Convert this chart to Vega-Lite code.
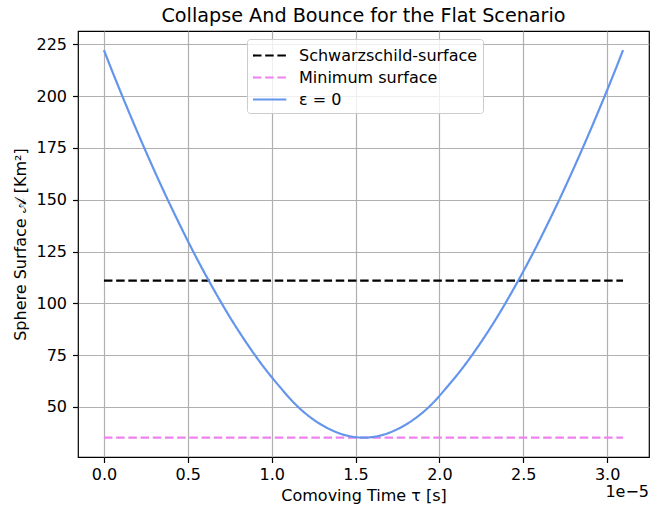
{
  "$schema": "https://vega.github.io/schema/vega-lite/v6.json",
  "width": 571,
  "height": 426,
  "autosize": {"type": "none"},
  "padding": {"left": 78, "top": 31, "right": 1, "bottom": 51},
  "background": "white",
  "config": {
    "font": "DejaVu Sans",
    "view": {"stroke": "black", "strokeWidth": 1.2},
    "axis": {
      "domain": false,
      "grid": true,
      "gridColor": "#b0b0b0",
      "gridWidth": 1.2,
      "tickColor": "black",
      "tickWidth": 1.2,
      "tickSize": 5.5,
      "labelFontSize": 16,
      "labelColor": "black",
      "labelPadding": 4,
      "titleFontSize": 16,
      "titleFontWeight": "normal",
      "titleColor": "black"
    }
  },
  "title": {
    "text": "Collapse And Bounce for the Flat Scenario",
    "fontSize": 19.2,
    "fontWeight": "normal",
    "color": "black",
    "anchor": "middle",
    "offset": 5
  },
  "datasets": {
    "lines": [
      {"series": "Schwarzschild-surface", "t": 0.0, "A": 111.0},
      {"series": "Schwarzschild-surface", "t": 3.095, "A": 111.0},
      {"series": "Minimum surface", "t": 0.0, "A": 35.2},
      {"series": "Minimum surface", "t": 3.095, "A": 35.2},
      {"series": "ε = 0", "t": 0.0, "A": 222.2},
      {"series": "ε = 0", "t": 0.0475, "A": 212.4},
      {"series": "ε = 0", "t": 0.1475, "A": 192.6},
      {"series": "ε = 0", "t": 0.2475, "A": 173.7},
      {"series": "ε = 0", "t": 0.3475, "A": 155.7},
      {"series": "ε = 0", "t": 0.4475, "A": 138.7},
      {"series": "ε = 0", "t": 0.5475, "A": 122.6},
      {"series": "ε = 0", "t": 0.6475, "A": 107.7},
      {"series": "ε = 0", "t": 0.7475, "A": 93.8},
      {"series": "ε = 0", "t": 0.8475, "A": 81.2},
      {"series": "ε = 0", "t": 0.9475, "A": 69.8},
      {"series": "ε = 0", "t": 1.0475, "A": 59.8},
      {"series": "ε = 0", "t": 1.1475, "A": 50.8},
      {"series": "ε = 0", "t": 1.2475, "A": 44.0},
      {"series": "ε = 0", "t": 1.3475, "A": 39.2},
      {"series": "ε = 0", "t": 1.4475, "A": 36.2},
      {"series": "ε = 0", "t": 1.5475, "A": 35.2},
      {"series": "ε = 0", "t": 1.6475, "A": 36.2},
      {"series": "ε = 0", "t": 1.7475, "A": 39.2},
      {"series": "ε = 0", "t": 1.8475, "A": 44.0},
      {"series": "ε = 0", "t": 1.9475, "A": 50.8},
      {"series": "ε = 0", "t": 2.0475, "A": 59.8},
      {"series": "ε = 0", "t": 2.1475, "A": 69.8},
      {"series": "ε = 0", "t": 2.2475, "A": 81.2},
      {"series": "ε = 0", "t": 2.3475, "A": 93.8},
      {"series": "ε = 0", "t": 2.4475, "A": 107.7},
      {"series": "ε = 0", "t": 2.5475, "A": 122.6},
      {"series": "ε = 0", "t": 2.6475, "A": 138.7},
      {"series": "ε = 0", "t": 2.7475, "A": 155.7},
      {"series": "ε = 0", "t": 2.8475, "A": 173.7},
      {"series": "ε = 0", "t": 2.9475, "A": 192.6},
      {"series": "ε = 0", "t": 3.0475, "A": 212.4},
      {"series": "ε = 0", "t": 3.095, "A": 222.2}
    ],
    "offset": [
      {"label": "1e−5", "t": 3.24975, "A": 25.85}
    ]
  },
  "layer": [
    {
      "data": {"name": "lines"},
      "mark": {"type": "line", "strokeWidth": 2.2, "interpolate": "monotone"},
      "encoding": {
        "x": {
          "field": "t",
          "type": "quantitative",
          "scale": {"domain": [-0.15475, 3.24975], "nice": false, "zero": false},
          "axis": {
            "values": [0, 0.5, 1, 1.5, 2, 2.5, 3],
            "format": ".1f",
            "title": "Comoving Time τ [s]",
            "titlePadding": 5
          }
        },
        "y": {
          "field": "A",
          "type": "quantitative",
          "scale": {"domain": [25.85, 231.45], "nice": false, "zero": false},
          "axis": {
            "values": [50, 75, 100, 125, 150, 175, 200, 225],
            "title": "Sphere Surface 𝒜 [Km²]",
            "titlePadding": 7,
            "labelPadding": 6
          }
        },
        "color": {
          "field": "series",
          "type": "nominal",
          "scale": {
            "domain": ["Schwarzschild-surface", "Minimum surface", "ε = 0"],
            "range": ["#000000", "#ee82ee", "#6495ed"]
          },
          "legend": {
            "title": null,
            "orient": "none",
            "legendX": 169,
            "legendY": 8,
            "fillColor": "rgba(255,255,255,0.8)",
            "strokeColor": "#cccccc",
            "cornerRadius": 3,
            "padding": 5,
            "labelFontSize": 16,
            "labelColor": "black",
            "labelOffset": 24,
            "labelLimit": 400,
            "symbolType": "M-1.05,0H2.28",
            "symbolSize": 400,
            "symbolStrokeWidth": 2.2,
            "rowPadding": 2
          }
        },
        "strokeDash": {
          "field": "series",
          "type": "nominal",
          "scale": {
            "domain": ["Schwarzschild-surface", "Minimum surface", "ε = 0"],
            "range": [[8.5, 3.7], [8.5, 3.7], [1, 0]]
          },
          "legend": {
            "title": null,
            "orient": "none",
            "legendX": 169,
            "legendY": 8,
            "fillColor": "rgba(255,255,255,0.8)",
            "strokeColor": "#cccccc",
            "cornerRadius": 3,
            "padding": 5,
            "labelFontSize": 16,
            "labelColor": "black",
            "labelOffset": 24,
            "labelLimit": 400,
            "symbolType": "M-1.05,0H2.28",
            "symbolSize": 400,
            "symbolStrokeWidth": 2.2,
            "rowPadding": 2
          }
        }
      }
    },
    {
      "data": {"name": "offset"},
      "mark": {
        "type": "text",
        "align": "right",
        "baseline": "top",
        "dy": 27,
        "fontSize": 16,
        "color": "black"
      },
      "encoding": {
        "x": {"field": "t", "type": "quantitative"},
        "y": {"field": "A", "type": "quantitative"},
        "text": {"field": "label"}
      }
    }
  ]
}
